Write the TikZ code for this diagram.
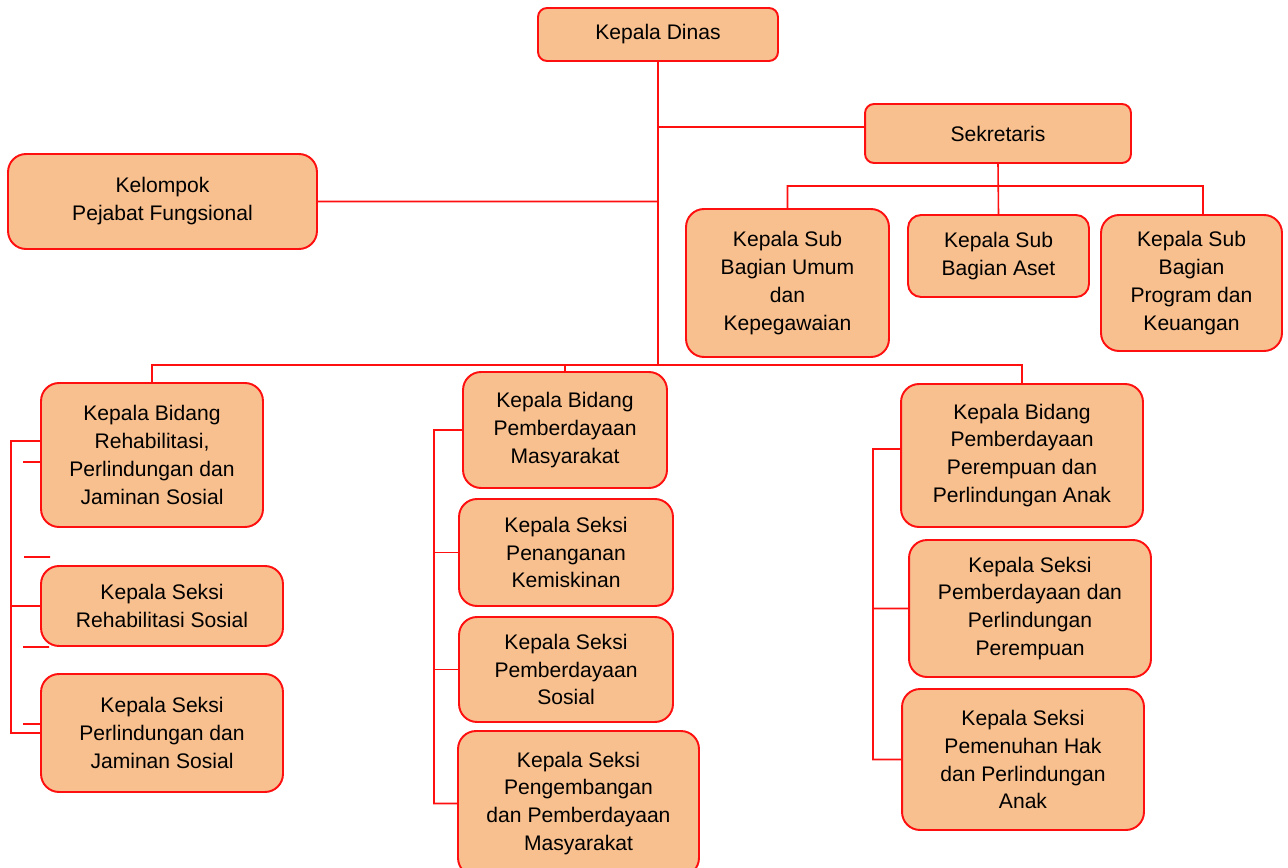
\documentclass[tikz,border=0pt]{standalone}
\usepackage{fontspec}
\setmainfont{Liberation Sans}
\usepackage{tikz}
\usepackage{xcolor}
\usetikzlibrary{
    calc,
    positioning
}
\definecolor{boxfill}{HTML}{F8C08F}
\definecolor{boxline}{HTML}{FF1010}

\begin{document}
\begin{tikzpicture}[x=0.02cm, y=-0.02cm,
    unit/.style={draw=boxline, fill=boxfill, line width=1.1pt, rounded corners=0.36cm,
        align=center, inner sep=2pt, font=\fontsize{12}{15.9}\selectfont},
    link/.style={draw=boxline, line width=0.9pt}]
                                \useasboundingbox (0,0) rectangle (1288,868);
                                % top level
                                \node[unit, rounded corners=0.18cm, minimum width=4.8cm, minimum height=1.06cm] (dinas) at (658,34.5) {Kepala Dinas};
                                \node[unit, rounded corners=0.18cm, minimum width=5.32cm, minimum height=1.18cm] (sekretaris) at (998,133.5) {Sekretaris};
                                \node[unit, minimum width=6.18cm, minimum height=1.9cm] (fungsional) at (162.5,201.5) {Kelompok\\Pejabat Fungsional};
                                % sub bagian
                                \node[unit, minimum width=4.06cm, minimum height=2.96cm] (umum) at (787.5,283) {Kepala Sub\\Bagian Umum\\dan\\Kepegawaian};
                                \node[unit, rounded corners=0.26cm, minimum width=3.62cm, minimum height=1.64cm] (aset) at (998.5,256) {Kepala Sub\\Bagian Aset};
                                \node[unit, minimum width=3.62cm, minimum height=2.72cm] (program) at (1191.5,283) {Kepala Sub\\Bagian\\Program dan\\Keuangan};
                                % bidang dan seksi
                                \node[unit, minimum width=4.44cm, minimum height=2.88cm] (rehab) at (152,455) {Kepala Bidang\\Rehabilitasi,\\Perlindungan dan\\Jaminan Sosial};
                                \node[unit, minimum width=4.84cm, minimum height=1.6cm] (rehabsos) at (162,606) {Kepala Seksi\\Rehabilitasi Sosial};
                                \node[unit, minimum width=4.84cm, minimum height=2.36cm] (jamsos) at (162,733) {Kepala Seksi\\Perlindungan dan\\Jaminan Sosial};
                                \node[unit, minimum width=4.08cm, minimum height=2.32cm] (pm) at (565,430) {Kepala Bidang\\Pemberdayaan\\Masyarakat};
                                \node[unit, minimum width=4.28cm, minimum height=2.14cm] (miskin) at (566,552.5) {Kepala Seksi\\Penanganan\\Kemiskinan};
                                \node[unit, minimum width=4.28cm, minimum height=2.1cm] (sosial) at (566,669.5) {Kepala Seksi\\Pemberdayaan\\Sosial};
                                \node[unit, minimum width=4.82cm, minimum height=2.9cm] (kembang) at (578.5,803.5) {Kepala Seksi\\Pengembangan\\dan Pemberdayaan\\Masyarakat};
                                \node[unit, minimum width=4.84cm, minimum height=2.86cm] (pppa) at (1022,455.5) {Kepala Bidang\\Pemberdayaan\\Perempuan dan\\Perlindungan Anak};
                                \node[unit, minimum width=4.84cm, minimum height=2.74cm] (perempuan) at (1030,608.5) {Kepala Seksi\\Pemberdayaan dan\\Perlindungan\\Perempuan};
                                \node[unit, minimum width=4.84cm, minimum height=2.82cm] (anak) at (1023,759.5) {Kepala Seksi\\Pemenuhan Hak\\dan Perlindungan\\Anak};
                                % bus lines
                                \coordinate (bus) at (658,365);
                                \coordinate (sekbar) at (998,186);
                                \coordinate (ls) at (11,0);
                                \coordinate (ms) at (434,0);
                                \coordinate (rs) at (873,0);
                                \coordinate (stub) at (24,557);
                                \draw[link]
                                (dinas.south) -- (bus)
                                ([yshift=0.13cm]sekretaris.west) -- ([yshift=0.13cm]sekretaris.west -| dinas.south)
                                (fungsional.east) -- (fungsional.east -| dinas.south)
                                (sekretaris.south) -- (aset.north)
                                (umum.north) |- (sekbar) -| ([xshift=0.23cm]program.north)
                                (rehab.north) |- (bus) -| (pppa.north)
                                (pm.north) -- (pm.north |- bus)
                                ([yshift=0.28cm]rehab.west) -| (jamsos.west -| ls) -- (jamsos.west)
                                (rehabsos.west) -- (rehabsos.west -| ls)
                                ([yshift=-0.14cm]rehab.west) -- ++(-17,0)
                                (stub) -- ++(26,0)
                                ([xshift=-0.34cm]rehabsos.south west) -- ++(26,0)
                                ([yshift=0.18cm]jamsos.west) -- ++(-17,0)
                                (pm.west) -| (kembang.west -| ms) -- (kembang.west)
                                ([yshift=0.13cm]pppa.west) -| (anak.west -| rs) -- (anak.west)
                                (perempuan.west) -- (perempuan.west -| rs);
                                \foreach \n in {miskin,sosial}
                                    \draw[link] (\n.west) -- (\n.west -| ms);
                            \end{tikzpicture}
\end{document}
